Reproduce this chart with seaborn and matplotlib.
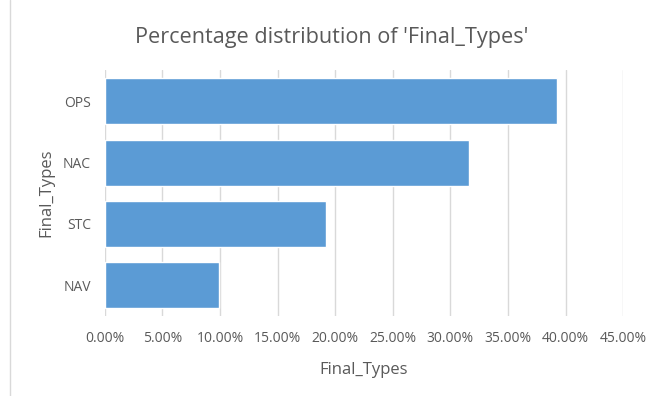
import matplotlib
matplotlib.use("Agg")
import matplotlib.pyplot as plt
import seaborn as sns
import pandas as pd
from matplotlib.ticker import PercentFormatter
from matplotlib.lines import Line2D

categories = ["OPS", "NAC", "STC", "NAV"]
values = [0.3922, 0.3162, 0.1917, 0.0995]
xticks = [0.0, 0.05, 0.10, 0.15, 0.20, 0.25, 0.30, 0.35, 0.40, 0.45]

sns.set_theme(style="white")
plt.rcParams["font.family"] = ["Open Sans", "DejaVu Sans"]

df = pd.DataFrame({"Final_Types": categories, "pct": values})

fig = plt.figure(figsize=(6.63, 3.96), dpi=100)
ax = fig.add_axes([0.158, 0.202, 0.782, 0.620])
sns.barplot(data=df, y="Final_Types", x="pct", color="#5B9BD5", width=0.75,
            saturation=1, ax=ax, order=categories)

ax.set_xlim(0, 0.45)
ax.set_xticks(xticks)
ax.xaxis.set_major_formatter(PercentFormatter(1.0, decimals=2))
ax.grid(axis="x", color="#D9D9D9", linewidth=1)
ax.set_axisbelow(True)
for s in ax.spines.values():
    s.set_visible(False)
ax.tick_params(axis="x", length=0, labelsize=10, colors="#595959", pad=11)
ax.tick_params(axis="y", length=0, labelsize=10, colors="#595959", pad=10)
ax.set_xlabel("Final_Types", fontsize=12, color="#595959", labelpad=11)
ax.set_ylabel("Final_Types", fontsize=12, color="#595959", labelpad=6)
fig.text(0.5, 1 - 37 / 396, "Percentage distribution of 'Final_Types'",
         fontsize=15.6, color="#595959", ha="center", va="center")

fig.add_artist(Line2D([0.015, 0.015], [0.0, 1.0], color="#D9D9D9", linewidth=1,
                      transform=fig.transFigure))

fig.savefig("out.png", dpi=100)
